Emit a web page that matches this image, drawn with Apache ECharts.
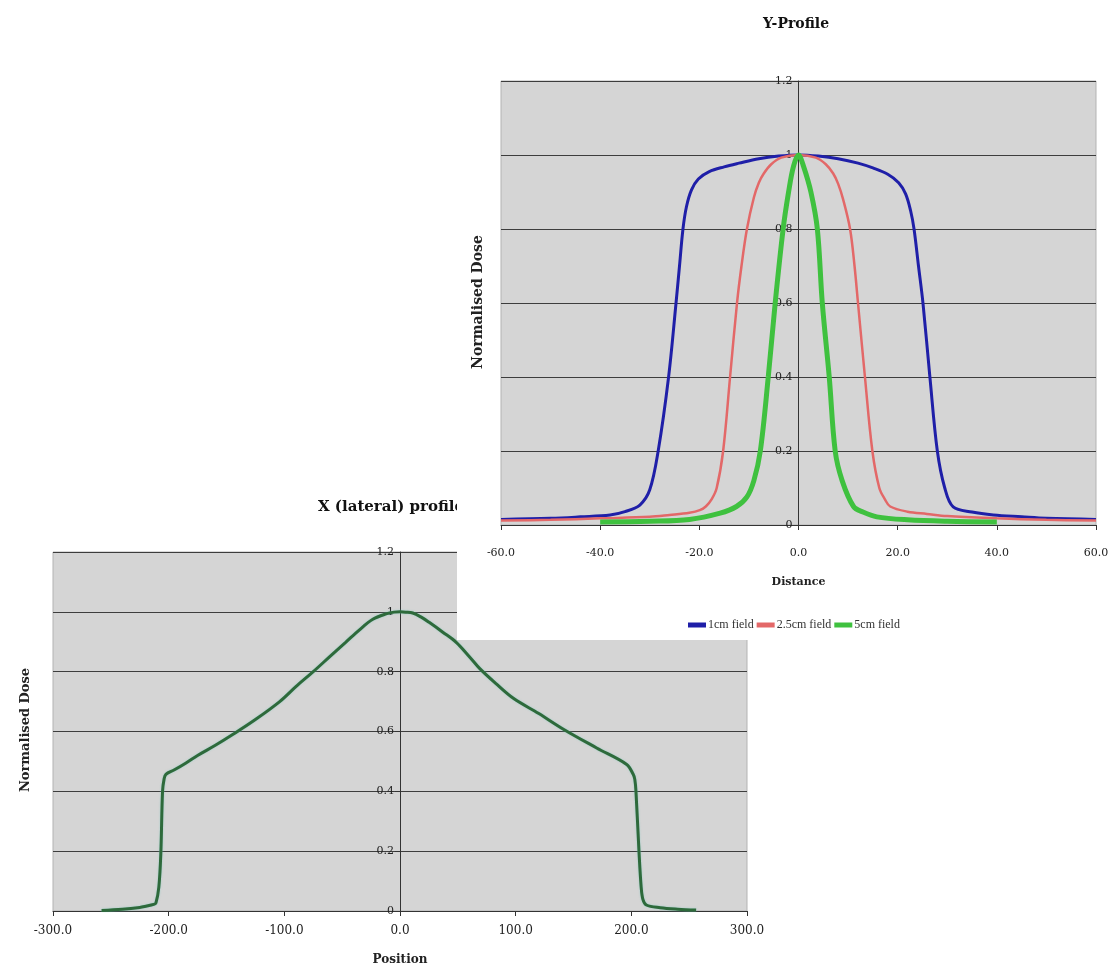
<!DOCTYPE html>
<html>
<head>
<meta charset="utf-8">
<script src="https://cdn.jsdelivr.net/npm/echarts@6/dist/echarts.min.js"></script>
<style>
  html, body { margin: 0; padding: 0; background: #fff; }
  #chart { width: 1113px; height: 967px; }
</style>
</head>
<body>
<div id="chart"></div>
<script>
// ---- X (lateral) profile: position (mm) vs normalised dose ----
const lateralPosition = [-258, -240, -225, -219.7, -213, -211, -208.5, -206.8, -205.3, -204, -202.4, -195, -185, -175, -160, -145, -125, -104, -90, -75, -60, -47, -35, -23.5, -12, -5, 0, 5, 11, 18, 25.5, 37, 48.6, 60, 69, 83, 98, 120, 142, 170, 196, 201.6, 203, 204, 206.6, 208.5, 210, 213, 225, 240, 256];
const lateralDose     = [0.002, 0.006, 0.012, 0.016, 0.022, 0.027, 0.08, 0.19, 0.4, 0.44, 0.457, 0.472, 0.495, 0.52, 0.553, 0.589, 0.64, 0.70, 0.75, 0.80, 0.853, 0.898, 0.94, 0.975, 0.993, 0.999, 1.0, 0.999, 0.996, 0.983, 0.964, 0.932, 0.898, 0.85, 0.81, 0.76, 0.711, 0.66, 0.606, 0.545, 0.49, 0.457, 0.44, 0.4, 0.2, 0.08, 0.039, 0.02, 0.011, 0.006, 0.003];

// ---- Y profiles for three field sizes: distance (mm) vs normalised dose ----
const fieldNames = ['1cm field', '2.5cm field', '5cm field'];

const field1Distance = [-60, -50, -44, -38, -35, -32, -30, -28.3, -26.2, -24.7, -24.0, -23.3, -22.6, -21.6, -20.2, -18, -15, -12, -8, -4, 0, 4, 8, 12, 15, 18, 20.2, 21.6, 22.6, 23.3, 24.2, 25.1, 26.5, 28.0, 29.5, 31.2, 35, 39.3, 45, 50, 60];
const field1Dose     = [0.015, 0.018, 0.022, 0.027, 0.036, 0.054, 0.095, 0.2, 0.4, 0.6, 0.7, 0.8, 0.86, 0.905, 0.935, 0.955, 0.968, 0.978, 0.99, 0.997, 1.0, 0.997, 0.99, 0.978, 0.965, 0.948, 0.925, 0.895, 0.85, 0.8, 0.7, 0.6, 0.4, 0.2, 0.1, 0.049, 0.035, 0.027, 0.022, 0.018, 0.015];

const field25Distance = [-60, -50, -40, -30, -26, -22, -19.9, -18.7, -17.5, -16.5, -15.2, -13.8, -12.4, -11.5, -10.4, -9, -8, -7, -5.5, -3.5, 0, 3.5, 5.5, 7, 8, 9, 10.4, 11.3, 12.0, 13.4, 14.9, 16.3, 17.4, 18.5, 22, 25.9, 30, 40, 50, 60];
const field25Dose     = [0.012, 0.014, 0.018, 0.022, 0.027, 0.033, 0.04, 0.05, 0.07, 0.1, 0.2, 0.4, 0.6, 0.7, 0.8, 0.885, 0.925, 0.95, 0.975, 0.993, 1.0, 0.993, 0.975, 0.95, 0.922, 0.88, 0.8, 0.7, 0.6, 0.4, 0.2, 0.1, 0.07, 0.05, 0.036, 0.03, 0.024, 0.018, 0.014, 0.012];

const field5Distance = [-40, -30, -22, -15.8, -12.5, -10.4, -9, -7.7, -6.1, -4.7, -3.1, -2, -1, 0, 1, 2.5, 3.8, 4.8, 6.2, 7.4, 8.8, 11.1, 13, 15.8, 22, 30, 40];
const field5Dose     = [0.008, 0.01, 0.015, 0.032, 0.05, 0.076, 0.12, 0.2, 0.4, 0.6, 0.8, 0.9, 0.97, 1.0, 0.97, 0.9, 0.8, 0.6, 0.4, 0.2, 0.12, 0.05, 0.035, 0.022, 0.014, 0.01, 0.008];

const fieldColors = ['#1f1fa8', '#e36868', '#3fc13f'];
const fieldWidths = [3, 2.5, 5];

function pairs(xs, ys) { return xs.map((x, i) => [x, ys[i]]); }

const serif = 'DejaVu Serif';
const plotBg = '#d5d5d5';
const gridLine = { show: true, lineStyle: { color: '#3d3d3d', width: 1.2 } };
const axisLineStyle = { color: '#333', width: 1 };
const doseLabel = v => String(+v.toFixed(1));
const posLabel = v => v.toFixed(1);

// plot rectangles (pixels) and the value ranges they span
const lateralGrid = { left: 53, top: 552, width: 694, height: 363 };
const lateralRange = [-300, 300];
const yGrid = { left: 501, top: 81, width: 595, height: 444 };
const yRange = [-60, 60];

// offset that puts a left-positioned value axis on the x = 0 line of its grid
function zeroOffset(g, range) {
  return -g.width * (0 - range[0]) / (range[1] - range[0]);
}

const chart = echarts.init(document.getElementById('chart'), null, { renderer: 'canvas' });

const yFieldSeries = [
  pairs(field1Distance, field1Dose),
  pairs(field25Distance, field25Dose),
  pairs(field5Distance, field5Dose)
].map((data, i) => ({
  name: fieldNames[i],
  type: 'line',
  xAxisIndex: 1,
  yAxisIndex: 1,
  zlevel: 1,
  z: 5 + i,
  data,
  showSymbol: false,
  smooth: 0.35,
  color: fieldColors[i],
  lineStyle: { color: fieldColors[i], width: fieldWidths[i] }
}));

chart.setOption({
  animation: false,
  backgroundColor: '#fff',
  title: [
    {
      text: 'X (lateral) profile', left: 313, top: 495, zlevel: 0,
      textStyle: { fontFamily: serif, fontSize: 15, fontWeight: 'bold', color: '#111' }
    },
    {
      text: 'Y-Profile', left: 758, top: 12, zlevel: 1, z: 10,
      textStyle: { fontFamily: serif, fontSize: 14, fontWeight: 'bold', color: '#111' }
    }
  ],
  legend: {
    data: fieldNames,
    zlevel: 1, z: 10,
    left: 683, top: 614,
    icon: 'rect', itemWidth: 18, itemHeight: 5, itemGap: 3,
    textStyle: { fontFamily: 'Liberation Serif', fontSize: 12, color: '#333', padding: [0, 0, 0, -3] }
  },
  grid: [
    Object.assign({ show: true, backgroundColor: plotBg, borderColor: '#b3b3b3', borderWidth: 1, zlevel: 0 }, lateralGrid),
    Object.assign({ show: true, backgroundColor: plotBg, borderColor: '#b3b3b3', borderWidth: 1, zlevel: 1, z: 2 }, yGrid)
  ],
  xAxis: [
    {
      gridIndex: 0, type: 'value', min: lateralRange[0], max: lateralRange[1], interval: 100,
      name: 'Position', nameLocation: 'middle', nameGap: 43,
      nameTextStyle: { fontFamily: serif, fontSize: 12, fontWeight: 'bold', color: '#222' },
      axisLine: { show: true, onZero: false, lineStyle: axisLineStyle },
      axisTick: { show: true, length: 5, lineStyle: axisLineStyle },
      axisLabel: { formatter: posLabel, fontFamily: serif, fontSize: 12, color: '#222', margin: 14 },
      splitLine: { show: false }
    },
    {
      gridIndex: 1, type: 'value', min: yRange[0], max: yRange[1], interval: 20, zlevel: 1, z: 3,
      name: 'Distance', nameLocation: 'middle', nameGap: 52,
      nameTextStyle: { fontFamily: serif, fontSize: 11, fontWeight: 'bold', color: '#222' },
      axisLine: { show: true, onZero: false, lineStyle: axisLineStyle },
      axisTick: { show: true, length: 5, lineStyle: axisLineStyle },
      axisLabel: { formatter: posLabel, fontFamily: serif, fontSize: 11, color: '#222', margin: 23 },
      splitLine: { show: false }
    }
  ],
  yAxis: [
    {
      gridIndex: 0, type: 'value', min: 0, max: 1.2, interval: 0.2,
      position: 'left', offset: zeroOffset(lateralGrid, lateralRange),
      axisLine: { show: true, onZero: false, lineStyle: axisLineStyle },
      axisTick: { show: true, length: 5, lineStyle: axisLineStyle },
      axisLabel: { formatter: doseLabel, fontFamily: serif, fontSize: 11, color: '#222', margin: 6 },
      splitLine: gridLine
    },
    {
      gridIndex: 1, type: 'value', min: 0, max: 1.2, interval: 0.2, zlevel: 1, z: 3,
      position: 'left', offset: zeroOffset(yGrid, yRange),
      axisLine: { show: true, onZero: false, lineStyle: axisLineStyle },
      axisTick: { show: true, length: 5, lineStyle: axisLineStyle },
      axisLabel: { formatter: doseLabel, fontFamily: serif, fontSize: 11, color: '#222', margin: 6 },
      splitLine: gridLine
    }
  ],
  graphic: {
    elements: [
      // white panel of the Y-profile chart, laid over the lateral chart
      { type: 'rect', zlevel: 1, z: 0, silent: true, shape: { x: 457, y: 0, width: 656, height: 640 }, style: { fill: '#fff' } },
      {
        type: 'text', zlevel: 0, z: 10, x: 26, y: 730, rotation: Math.PI / 2, silent: true,
        style: { text: 'Normalised Dose', font: 'bold 13px "DejaVu Serif"', fill: '#222', align: 'center', verticalAlign: 'middle' }
      },
      {
        type: 'text', zlevel: 1, z: 10, x: 478, y: 302, rotation: Math.PI / 2, silent: true,
        style: { text: 'Normalised Dose', font: 'bold 14px "DejaVu Serif"', fill: '#222', align: 'center', verticalAlign: 'middle' }
      }
    ]
  },
  series: [
    {
      name: 'X (lateral) profile',
      type: 'line',
      xAxisIndex: 0,
      yAxisIndex: 0,
      data: pairs(lateralPosition, lateralDose),
      showSymbol: false,
      smooth: 0.35,
      z: 5,
      lineStyle: { color: '#2e6a3b', width: 3, shadowColor: 'rgba(110,200,190,0.6)', shadowBlur: 2 }
    }
  ].concat(yFieldSeries)
});
</script>
</body>
</html>
